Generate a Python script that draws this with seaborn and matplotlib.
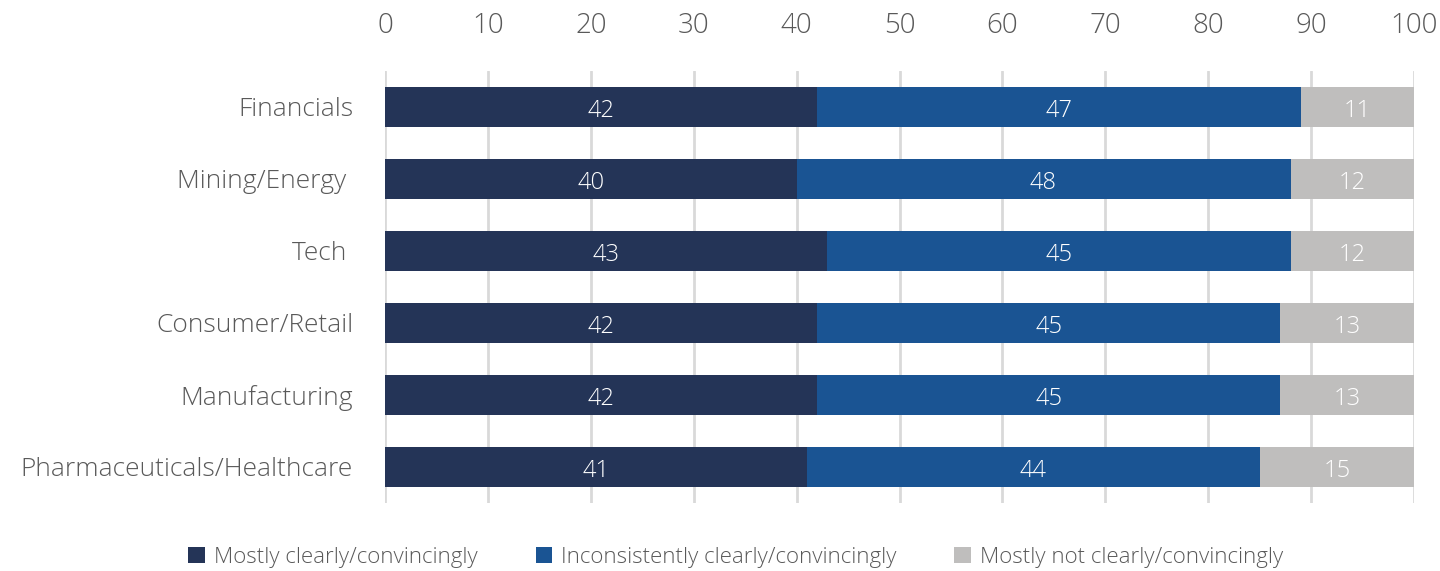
import matplotlib
matplotlib.use("Agg")
import matplotlib.pyplot as plt
import seaborn as sns
import pandas as pd
import numpy as np
from matplotlib.patches import Patch

categories = ["Financials", "Mining/Energy ", "Tech ", "Consumer/Retail",
              "Manufacturing", "Pharmaceuticals/Healthcare"]
mostly_clear = [42, 40, 43, 42, 42, 41]
inconsistent = [47, 48, 45, 45, 45, 44]
mostly_not = [11, 12, 12, 13, 13, 15]
series_names = ["Mostly clearly/convincingly", "Inconsistently clearly/convincingly",
                "Mostly not clearly/convincingly"]
colors = ["#243457", "#1A5493", "#BFBEBD"]
xticks = [0, 10, 20, 30, 40, 50, 60, 70, 80, 90, 100]

sns.set_theme(style="white")
plt.rcParams['font.family'] = ['Open Sans', 'DejaVu Sans']
TXT = "#595959"

df = pd.DataFrame({"cat": categories,
                   "s1": mostly_clear, "s2": inconsistent, "s3": mostly_not})
df["c1"] = df["s1"]
df["c2"] = df["s1"] + df["s2"]
df["c3"] = df["s1"] + df["s2"] + df["s3"]

fig = plt.figure(figsize=(14.4, 5.71), dpi=100)
ax = fig.add_axes([385/1440, 1-503/571, (1414-385)/1440, (503-71)/571])

for col, c in zip(["c3", "c2", "c1"], colors[::-1]):
    sns.barplot(data=df, x=col, y="cat", orient="h", color=c, width=0.556,
                saturation=1, ax=ax, zorder=3, linewidth=0)

ax.set_xlim(0, 100)
ax.set_ylim(5.5, -0.5)
ax.set_xticks(xticks)
ax.xaxis.tick_top()
ax.tick_params(axis="x", length=0, pad=22, labelsize=20, labelcolor=TXT)
ax.tick_params(axis="y", length=0, pad=23, labelsize=19, labelcolor=TXT)
for lab in ax.get_xticklabels() + ax.get_yticklabels():
    lab.set_fontweight("light")
ax.set_xlabel("")
ax.set_ylabel("")
ax.grid(axis="x", color="#D9D9D9", linewidth=2, zorder=0)
ax.set_axisbelow(True)
for s in ax.spines.values():
    s.set_visible(False)

for i in range(len(categories)):
    lefts = [0, mostly_clear[i], mostly_clear[i] + inconsistent[i]]
    vals = [mostly_clear[i], inconsistent[i], mostly_not[i]]
    for l, v in zip(lefts, vals):
        ax.text(l + v/2, i + 0.05, str(v), ha="center", va="center", color="white",
                fontsize=17, fontweight="light", zorder=5)

handles = [Patch(facecolor=c, edgecolor="none") for c in colors]
leg = fig.legend(handles, series_names, loc="center", bbox_to_anchor=(0.511, 1-557/571),
                 ncol=3, frameon=False, fontsize=16, columnspacing=2.6,
                 handlelength=0.75, handleheight=0.75, handletextpad=0.4)
for t in leg.get_texts():
    t.set_color(TXT)
    t.set_fontweight("light")

fig.savefig("out.png", dpi=100)
